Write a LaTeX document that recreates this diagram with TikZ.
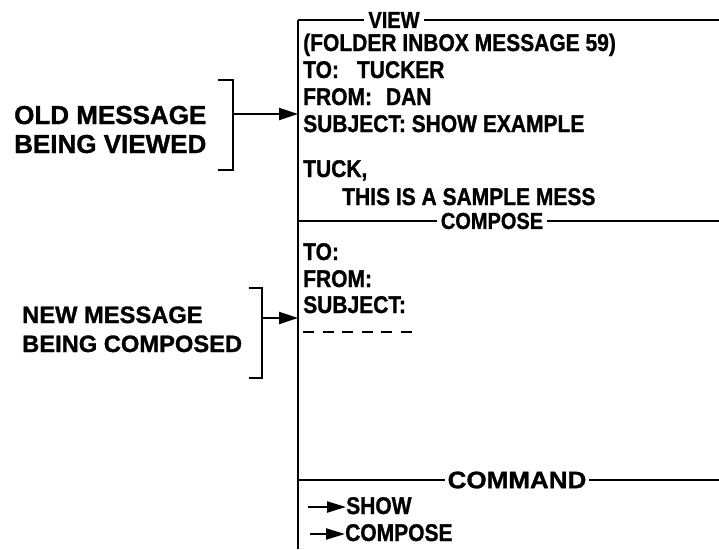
\documentclass[tikz,border=0pt]{standalone}
\usepackage{fontspec}
\usepackage{graphicx}
\setmainfont{Liberation Sans}[BoldFeatures={FakeBold=1.2}]
\usetikzlibrary{arrows.meta}
\newcommand{\tall}[1]{\scalebox{1}[1.15]{#1}}
\begin{document}
\begin{tikzpicture}[x=1pt,y=-1pt,
  txt/.style={anchor=base west,inner sep=0pt,font=\bfseries\fontsize{21}{24}\selectfont},
  hdr/.style={inner ysep=0pt,inner xsep=4pt,font=\bfseries\fontsize{20}{22}\selectfont},
  lbl/.style={anchor=base west,inner sep=0pt,font=\bfseries\fontsize{26}{28}\selectfont},
  lbltwo/.style={anchor=base west,inner sep=0pt,font=\bfseries\fontsize{23.7}{28}\selectfont},
  rule/.style={line width=2.3pt},
  arr/.style={line width=2.3pt,-{Triangle[length=19pt,width=12pt]}},
  smallarr/.style={line width=2.2pt,-{Triangle[length=19pt,width=11pt]}}]
\useasboundingbox (0,0) rectangle (719,549);

% main frame
\coordinate (ftop) at (298,20);
\coordinate (fbot) at (298,549);
\draw[rule] (fbot) -- (ftop);

% VIEW header
\node[hdr] (view) at (394,20) {\tall{VIEW}};
\coordinate (viewR) at (719,20);
\draw[rule] (ftop) -- (view.west);
\draw[rule] (view.east) -- (viewR);

\node[txt] (folder) at (303,51) {\tall{(FOLDER INBOX MESSAGE 59)}};
\node[txt] (vto) at (303,78) {\tall{TO:\hspace{18pt}TUCKER}};
\node[txt] (vfrom) at (303,105) {\tall{FROM:\hspace{14pt}DAN}};
\node[txt] (vsubj) at (303,132) {\tall{SUBJECT:\ SHOW EXAMPLE}};
\node[txt] (tuck) at (303,177) {\tall{TUCK,}};
\node[txt] (sample) at (342,205) {\tall{THIS IS A SAMPLE MESS}};

% COMPOSE header
\coordinate (compL) at (298,221);
\coordinate (compR) at (719,221);
\node[hdr] (comp) at (492,221) {\tall{COMPOSE}};
\draw[rule] (compL) -- (comp.west);
\draw[rule] (comp.east) -- (compR);

\node[txt] (cto) at (303,260) {\tall{TO:}};
\node[txt] (cfrom) at (303,287) {\tall{FROM:}};
\node[txt] (csubj) at (303,313) {\tall{SUBJECT:}};
\coordinate (dashL) at (303,332);
\coordinate (dashR) at (414,332);
\draw[line width=2.3pt,dash pattern=on 11pt off 8.6pt] (dashL) -- (dashR);

% COMMAND header
\coordinate (cmdL) at (298,480);
\coordinate (cmdR) at (719,480);
\node[hdr,font=\bfseries\fontsize{26}{28}\selectfont,inner xsep=2pt] (cmd) at (517,480) {\scalebox{1}[0.92]{COMMAND}};
\draw[rule] (cmdL) -- (cmd.west);
\draw[rule] (cmd.east) -- (cmdR);

\node[txt] (show) at (346,514) {\tall{SHOW}};
\node[txt] (compose) at (345,541) {\tall{COMPOSE}};
\coordinate (a1) at (308,507);
\coordinate (a2) at (310,534);
\draw[smallarr] (a1) -- (show.west |- a1);
\draw[smallarr] (a2) -- (compose.west |- a2);

% left labels
\node[lbl] (old1) at (14,124) {OLD MESSAGE};
\node[lbl] (old2) at (14,153) {BEING VIEWED};
\draw[rule] (218,80) -- (233,80) -- (233,170) -- (218,170);
\coordinate (b1) at (233,114);
\draw[arr] (b1) -- (ftop |- b1);

\node[lbltwo] (new1) at (22,323) {NEW MESSAGE};
\node[lbltwo] (new2) at (22,352) {BEING COMPOSED};
\draw[rule] (249,288) -- (262,288) -- (262,378) -- (249,378);
\coordinate (b2) at (262,318);
\draw[arr] (b2) -- (ftop |- b2);
\end{tikzpicture}
\end{document}
